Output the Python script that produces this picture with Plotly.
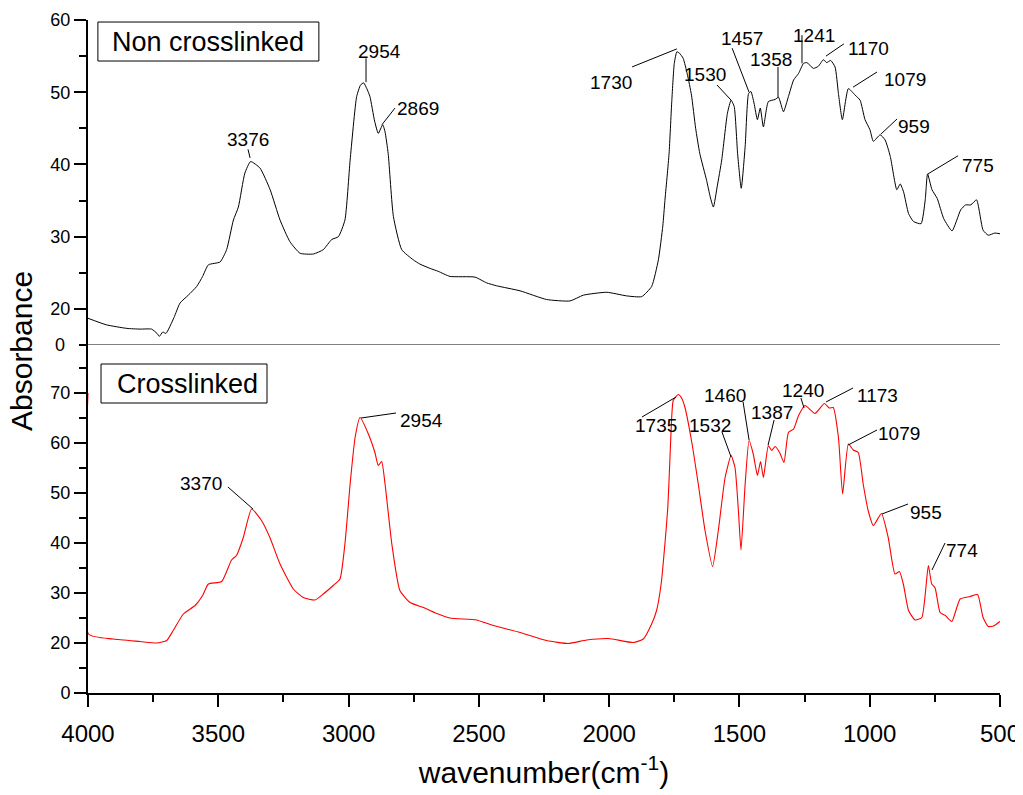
import plotly.graph_objects as go

# ---------------- data ----------------
top_wn = [4000, 3930, 3851, 3800, 3756, 3735, 3726, 3713, 3701, 3670,
          3647, 3615, 3583, 3560, 3538, 3493, 3468, 3442, 3423, 3398,
          3376, 3340, 3301, 3263, 3225, 3186, 3135, 3097, 3065, 3039,
          3014, 2994, 2969, 2954, 2942, 2930, 2918, 2900, 2886, 2869,
          2860, 2848, 2828, 2796, 2752, 2726, 2687, 2656, 2611, 2515,
          2470, 2432, 2342, 2240, 2150, 2099, 2009, 1933, 1875, 1837,
          1811, 1794, 1786, 1770, 1760, 1750, 1740, 1730, 1716, 1700,
          1684, 1668, 1652, 1626, 1612, 1600, 1585, 1568, 1546, 1532,
          1520, 1507, 1493, 1478, 1465, 1456, 1444, 1431, 1420, 1408,
          1389, 1363, 1350, 1331, 1312, 1292, 1273, 1254, 1241, 1216,
          1197, 1178, 1165, 1150, 1133, 1120, 1105, 1082, 1056, 1037,
          1018, 999, 986, 960, 941, 921, 896, 883, 870, 851,
          832, 803, 787, 778, 761, 741, 716, 684, 651, 632,
          612, 590, 565, 545, 520, 500]
top_abs = [14.8, 11.2, 9.2, 8.8, 8.8, 6.4, 4.8, 7.2, 6.4, 15.2,
           20.8, 21.9, 23.1, 24.5, 26.1, 26.5, 28.2, 32.3, 34.1, 38.8,
           40.4, 39.5, 36.5, 32.3, 29.3, 27.7, 27.6, 28.2, 29.6, 30.0,
           32.3, 40.6, 49.4, 51.0, 51.3, 50.5, 49.4, 46.0, 44.3, 45.5,
           44.5, 41.5, 32.8, 28.2, 26.8, 26.2, 25.6, 25.2, 24.5, 24.4,
           23.6, 23.2, 22.5, 21.3, 21.1, 21.9, 22.3, 21.8, 21.7, 23.1,
           26.8, 31.5, 35.0, 41.5, 48.5, 54.0, 55.6, 55.4, 54.7, 52.5,
           49.6, 45.0, 41.5, 37.8, 35.5, 34.1, 37.0, 40.6, 47.1, 48.9,
           48.0, 41.5, 36.7, 42.5, 49.8, 50.1, 48.5, 46.2, 47.8, 45.2,
           48.7, 49.0, 49.3, 47.3, 49.4, 51.7, 52.6, 54.0, 54.1, 53.3,
           53.6, 54.5, 54.1, 54.4, 53.5, 49.8, 46.2, 50.5, 49.6, 48.9,
           46.2, 44.8, 43.2, 44.1, 43.4, 41.1, 36.5, 37.3, 36.2, 33.2,
           32.1, 31.8, 35.1, 38.7, 36.5, 35.3, 32.5, 30.8, 33.7, 34.4,
           34.4, 35.1, 30.9, 30.2, 30.5, 30.4]

bot_wn = [4000, 3998, 3903, 3800, 3736, 3698, 3673, 3634, 3589, 3560,
          3538, 3487, 3449, 3430, 3404, 3372, 3334, 3302, 3263, 3212,
          3174, 3129, 3097, 3059, 3033, 3014, 2994, 2975, 2956, 2924,
          2899, 2886, 2873, 2860, 2834, 2803, 2764, 2713, 2656, 2611,
          2509, 2457, 2342, 2240, 2157, 2086, 2003, 1907, 1869, 1837,
          1818, 1800, 1786, 1775, 1767, 1760, 1754, 1735, 1722, 1709,
          1683, 1658, 1632, 1603, 1581, 1555, 1532, 1517, 1504, 1494,
          1478, 1463, 1447, 1431, 1419, 1408, 1389, 1376, 1363, 1345,
          1329, 1312, 1292, 1273, 1248, 1210, 1174, 1155, 1140, 1120,
          1104, 1082, 1063, 1044, 1025, 1006, 986, 955, 929, 903,
          886, 871, 851, 826, 800, 775, 762, 749, 730, 710,
          685, 653, 615, 586, 565, 545, 525, 500]
bot_abs = [70.0, 21.8, 20.8, 20.3, 20.0, 20.5, 22.5, 25.8, 27.5, 29.5,
           31.8, 32.3, 36.6, 37.5, 41.1, 46.8, 44.5, 41.1, 35.8, 30.8,
           29.1, 28.6, 29.8, 31.5, 32.8, 39.8, 51.8, 61.1, 65.1, 61.8,
           58.1, 55.5, 56.3, 51.8, 39.8, 30.5, 28.1, 27.1, 25.8, 25.0,
           24.6, 23.7, 22.1, 20.5, 19.8, 20.6, 20.9, 20.1, 20.8, 23.8,
           26.5, 32.0, 39.8, 47.0, 56.5, 65.1, 68.5, 69.7, 69.0, 67.1,
           60.2, 51.8, 42.5, 35.3, 42.5, 53.1, 57.5, 55.1, 46.5, 38.6,
           51.8, 60.5, 57.8, 53.5, 56.3, 53.1, 59.5, 58.5, 59.3, 58.0,
           56.1, 62.1, 62.8, 65.5, 67.5, 65.9, 67.9, 67.0, 67.1, 61.1,
           49.8, 59.8, 58.6, 58.1, 51.8, 46.5, 43.5, 45.9, 41.1, 33.8,
           34.3, 31.8, 26.5, 24.6, 25.1, 35.5, 31.8, 31.0, 26.1, 25.5,
           24.3, 28.8, 29.3, 29.7, 25.1, 23.3, 23.4, 24.3]

top_peak_labels = ["3376", "2954", "2869", "1730", "1530", "1457", "1358",
                   "1241", "1170", "1079", "959", "775"]
bot_peak_labels = ["3370", "2954", "1735", "1532", "1460", "1387", "1240",
                   "1173", "1079", "955", "774"]

top_y_ticks = [20, 30, 40, 50, 60]
bot_y_ticks = [0, 20, 30, 40, 50, 60, 70]
x_ticks = [4000, 3500, 3000, 2500, 2000, 1500, 1000, 500]

# ---------------- axis break (0-20 compressed) ----------------
def top_t(v):
    return v if v >= 20 else 20 - (20 - v) / 4.0

def bot_t(v):
    return v if v >= 20 else 20 - (20 - v) / 2.0

FONT = "Liberation Sans, Arial, sans-serif"

# label positions (wn, t) and leader lines (wn0, t0, wn1, t1)
top_label_pos = [(3386, 43.5), (2883, 55.6), (2734, 47.7), (1993, 51.4),
                 (1632, 52.4), (1490, 57.5), (1379, 54.5), (1214, 57.9),
                 (1003, 56.1), (865, 51.7), (830, 45.2), (584, 39.9)]
top_leaders = [(3386, 42.1, 3378, 40.9), (2933, 54.7, 2933, 51.4),
               (2822, 47.8, 2872, 45.5), (1912, 53.5, 1740, 56.0),
               (1586, 51.0, 1532, 48.9), (1528, 56.1, 1463, 50.0),
               (1352, 53.5, 1352, 49.3), (1260, 57.9, 1260, 54.0),
               (1099, 56.7, 1168, 55.0), (972, 52.8, 1064, 50.7),
               (895, 46.3, 957, 44.2), (661, 41.2, 776, 38.7)]
bot_label_pos = [(3566, 51.8), (2722, 64.4), (1820, 63.4), (1613, 63.4),
                 (1555, 69.4), (1375, 66.0), (1256, 70.4), (972, 69.4),
                 (888, 61.8), (784, 46.0), (646, 38.6)]
bot_leaders = [(3463, 51.2, 3367, 46.8), (2818, 66.0, 2952, 65.0),
               (1874, 65.2, 1743, 69.2), (1567, 62.2, 1532, 57.2),
               (1486, 68.2, 1463, 60.6), (1367, 64.6, 1390, 59.6),
               (1264, 69.0, 1252, 67.0), (1064, 71.0, 1168, 68.2),
               (972, 62.6, 1083, 59.6), (853, 47.8, 953, 45.8),
               (711, 40.0, 761, 34.6)]

# the page body adds an 8px offset, so the figure is drawn 8px smaller
W, H = 1015, 787
ML, MR, MT, MB = 80, 23, 12, 102
PW, PH = W - ML - MR, H - MT - MB

fig = go.Figure()
fig.add_trace(go.Scatter(x=top_wn, y=[top_t(v) for v in top_abs], mode="lines",
                         line=dict(color="black", width=1, shape="spline", smoothing=0.5),
                         xaxis="x", yaxis="y2", showlegend=False, hoverinfo="skip"))
fig.add_trace(go.Scatter(x=bot_wn, y=[bot_t(v) for v in bot_abs], mode="lines",
                         line=dict(color="red", width=1.1, shape="spline", smoothing=0.5),
                         xaxis="x", yaxis="y", showlegend=False, hoverinfo="skip"))

annotations = []
shapes = []
for txt, (xx, yy) in zip(top_peak_labels, top_label_pos):
    annotations.append(dict(x=xx, y=yy, xref="x", yref="y2", text=txt, showarrow=False,
                            font=dict(family=FONT, size=19, color="black")))
for (a, b, c, d) in top_leaders:
    shapes.append(dict(type="line", xref="x", yref="y2", x0=a, y0=b, x1=c, y1=d,
                       line=dict(color="black", width=1)))
for txt, (xx, yy) in zip(bot_peak_labels, bot_label_pos):
    annotations.append(dict(x=xx, y=yy, xref="x", yref="y", text=txt, showarrow=False,
                            font=dict(family=FONT, size=19, color="black")))
for (a, b, c, d) in bot_leaders:
    shapes.append(dict(type="line", xref="x", yref="y", x0=a, y0=b, x1=c, y1=d,
                       line=dict(color="black", width=1)))

# panel title boxes
shapes.append(dict(type="rect", xref="x", yref="y2", x0=3962, x1=3114, y0=54.32, y1=59.72,
                   line=dict(color="black", width=1), fillcolor="rgba(0,0,0,0)"))
annotations.append(dict(x=3538, y=56.9, xref="x", yref="y2", text="Non crosslinked",
                        showarrow=False, font=dict(family=FONT, size=27, color="black")))
shapes.append(dict(type="rect", xref="x", yref="y", x0=3950, x1=3313, y0=68.0, y1=75.8,
                   line=dict(color="black", width=1), fillcolor="rgba(0,0,0,0)"))
annotations.append(dict(x=3618, y=71.7, xref="x", yref="y", text="Crosslinked",
                        showarrow=False, font=dict(family=FONT, size=27, color="black")))

# top panel baseline
shapes.append(dict(type="line", xref="x", yref="y2", x0=4000, x1=500, y0=15, y1=15,
                   line=dict(color="black", width=1)))
# top panel "0" label at the compressed break
annotations.append(dict(x=0, y=top_t(0), xref="paper", yref="y2", text="0", showarrow=False,
                        xanchor="right", xshift=-21, font=dict(family=FONT, size=18, color="black")))
# shared y title
annotations.append(dict(x=(13 - ML) / PW, y=(H - MB - 343) / PH, xref="paper", yref="paper",
                        xanchor="center", yanchor="middle",
                        text="Absorbance", showarrow=False, textangle=-90,
                        font=dict(size=30, family=FONT, color="black")))

axis_common = dict(ticks="outside", ticklen=12, tickwidth=2, tickcolor="black",
                   showline=True, linewidth=2, linecolor="black", showgrid=False,
                   zeroline=False, automargin=False, layer="below traces")

fig.update_layout(
    width=W, height=H,
    margin=dict(l=ML, r=MR, t=MT, b=MB, autoexpand=False),
    paper_bgcolor="white", plot_bgcolor="white",
    font=dict(family=FONT, color="black"),
    annotations=annotations, shapes=shapes,
    xaxis=dict(range=[4000, 500], tickmode="array", tickvals=x_ticks,
               ticktext=[str(v) for v in x_ticks], tickfont=dict(size=24, family=FONT),
               ticklabelstandoff=6,
               minor=dict(tickmode="array", tickvals=[3750, 3250, 2750, 2250, 1750, 1250, 750],
                          ticks="outside", ticklen=7, tickwidth=2, tickcolor="black"),
               title=dict(text="wavenumber(cm<sup>-1</sup>)", font=dict(size=30, family=FONT),
                          standoff=16),
               anchor="y", **axis_common),
    yaxis=dict(domain=[0, 348 / PH], range=[10, 79.6], tickmode="array",
               tickvals=[bot_t(v) for v in bot_y_ticks], ticktext=[str(v) for v in bot_y_ticks],
               tickfont=dict(size=18, family=FONT),
               minor=dict(tickmode="array", tickvals=[bot_t(10), 25, 35, 45, 55, 65, 75],
                          ticks="outside", ticklen=7, tickwidth=2, tickcolor="black"),
               anchor="x", **axis_common),
    yaxis2=dict(domain=[348 / PH, 1], range=[15, 60], tickmode="array",
                tickvals=top_y_ticks, ticktext=[str(v) for v in top_y_ticks],
                tickfont=dict(size=18, family=FONT),
                minor=dict(tickmode="array", tickvals=[top_t(0), 25, 35, 45, 55],
                           ticks="outside", ticklen=7, tickwidth=2, tickcolor="black"),
                anchor="x", **axis_common),
)

fig.write_html("out.html")
